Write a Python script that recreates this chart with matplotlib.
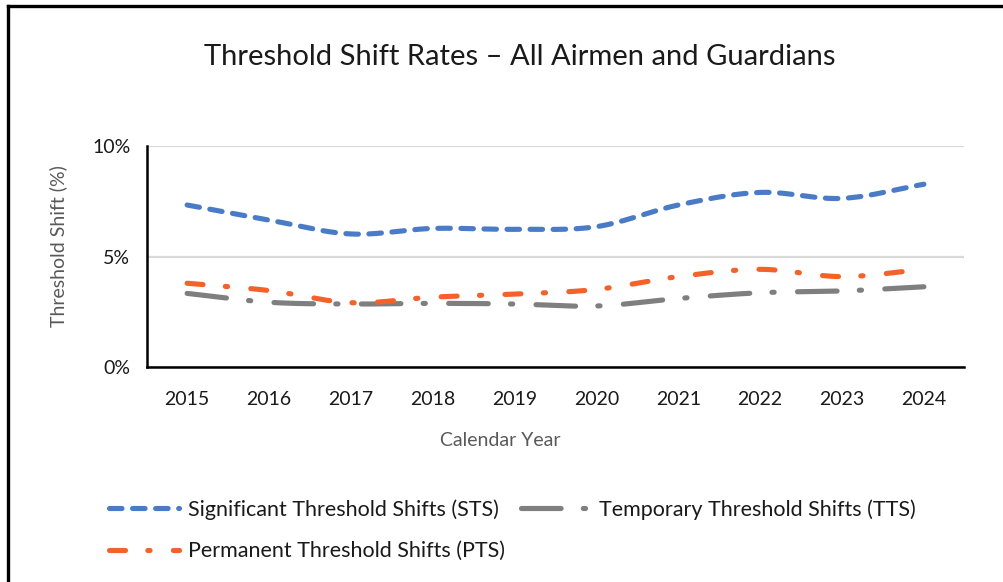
import numpy as np
import matplotlib
matplotlib.use("Agg")
import matplotlib.pyplot as plt
from matplotlib.lines import Line2D

plt.rcParams['font.family'] = ['Lato', 'DejaVu Sans']
plt.rcParams['lines.scale_dashes'] = False

years = ["2015", "2016", "2017", "2018", "2019", "2020", "2021", "2022", "2023", "2024"]
sts = [7.33, 6.65, 6.02, 6.27, 6.23, 6.35, 7.33, 7.90, 7.63, 8.27]
tts = [3.33, 2.93, 2.85, 2.88, 2.85, 2.76, 3.10, 3.36, 3.44, 3.63]
pts = [3.79, 3.46, 2.91, 3.16, 3.30, 3.51, 4.09, 4.42, 4.09, 4.42]
y_ticks = [0, 5, 10]
y_tick_labels = ["0%", "5%", "10%"]

BLUE = "#4A7BC6"
GRAY = "#7F7F7F"
ORANGE = "#F4622A"


def smooth(xs, ys, n=30):
    """Bezier smoothing through every point (spreadsheet 'smoothed line')."""
    xs = np.asarray(xs, float)
    ys = np.asarray(ys, float)
    px = np.concatenate([[2 * xs[0] - xs[1]], xs, [2 * xs[-1] - xs[-2]]])
    py = np.concatenate([[2 * ys[0] - ys[1]], ys, [2 * ys[-1] - ys[-2]]])
    out_x, out_y = [], []
    t = np.linspace(0, 1, n, endpoint=False)
    for i in range(1, len(px) - 2):
        p0, p1, p2, p3 = px[i - 1], px[i], px[i + 1], px[i + 2]
        q0, q1, q2, q3 = py[i - 1], py[i], py[i + 1], py[i + 2]
        c1x, c1y = p1 + (p2 - p0) / 6, q1 + (q2 - q0) / 6
        c2x, c2y = p2 - (p3 - p1) / 6, q2 - (q3 - q1) / 6
        bx = (1 - t) ** 3 * p1 + 3 * (1 - t) ** 2 * t * c1x + 3 * (1 - t) * t ** 2 * c2x + t ** 3 * p2
        by = (1 - t) ** 3 * q1 + 3 * (1 - t) ** 2 * t * c1y + 3 * (1 - t) * t ** 2 * c2y + t ** 3 * q2
        out_x.extend(bx)
        out_y.extend(by)
    out_x.append(xs[-1])
    out_y.append(ys[-1])
    return np.array(out_x), np.array(out_y)


fig = plt.figure(figsize=(10.04, 5.82), dpi=100)
fig.patch.set_facecolor("white")

# page frame: left and top edges
fig.add_artist(Line2D([8.5 / 1004, 8.5 / 1004], [0, 1 - 5.5 / 582], transform=fig.transFigure,
                      color="black", lw=2.4, solid_capstyle="projecting"))
fig.add_artist(Line2D([8.5 / 1004, 1], [1 - 5.5 / 582, 1 - 5.5 / 582], transform=fig.transFigure,
                      color="black", lw=2.4, solid_capstyle="projecting"))

ax = fig.add_axes([147 / 1004, 1 - 367 / 582, (964 - 147) / 1004, (367 - 146) / 582])
x = np.arange(len(years))

lw = 3.7
styles = {
    "sts": dict(color=BLUE, dashes=(9.0, 7.6)),
    "tts": dict(color=GRAY, dashes=(28.5, 16.0, 1.6, 16.8)),
    "pts": dict(color=ORANGE, dashes=(11.5, 16.1, 1.6, 16.8)),
}

sx, sy = smooth(x, sts)
l_sts, = ax.plot(sx, sy, lw=lw, dash_capstyle="round", label="Significant Threshold Shifts (STS)", **styles["sts"])
sx, sy = smooth(x, tts)
l_tts, = ax.plot(sx, sy, lw=lw, dash_capstyle="round", label="Temporary Threshold Shifts (TTS)", **styles["tts"])
sx, sy = smooth(x, pts)
l_pts, = ax.plot(sx, sy, lw=lw, dash_capstyle="round", label="Permanent Threshold Shifts (PTS)", **styles["pts"])

ax.set_xlim(-0.49, len(years) - 0.51)
ax.set_ylim(0, 10)
ax.set_yticks(y_ticks)
ax.set_yticklabels(y_tick_labels)
ax.set_xticks(x)
ax.set_xticklabels(years)
ax.yaxis.grid(True, color="#D9D9D9", lw=1.6)
ax.set_axisbelow(True)
for s in ("top", "right"):
    ax.spines[s].set_visible(False)
for s in ("left", "bottom"):
    ax.spines[s].set_color("black")
    ax.spines[s].set_linewidth(1.8)
ax.tick_params(length=0, labelsize=14, colors="#1a1a1a")
ax.tick_params(axis="x", pad=17)
ax.tick_params(axis="y", pad=12)

fig.text(520 / 1004, 1 - 57 / 582, "Threshold Shift Rates \u2013 All Airmen and Guardians",
         ha="center", va="center", fontsize=21, color="#1a1a1a")
fig.text(58 / 1004, 1 - 246 / 582, "Threshold Shift (%)", rotation=90, ha="center", va="center",
         fontsize=14, color="#595959")
fig.text(500 / 1004, 1 - 441 / 582, "Calendar Year", ha="center", va="center",
         fontsize=14, color="#595959")

leg = fig.legend(handles=[l_sts, l_pts, l_tts], ncol=2, loc="upper left",
                 bbox_to_anchor=(109 / 1004, 1 - 499 / 582), frameon=False,
                 fontsize=15.5, handlelength=3.25, handletextpad=0.4,
                 columnspacing=0.75, labelspacing=1.0, borderpad=0, borderaxespad=0)
for t in leg.get_texts():
    t.set_color("#1a1a1a")

fig.savefig("out.png", dpi=100, facecolor="white")
